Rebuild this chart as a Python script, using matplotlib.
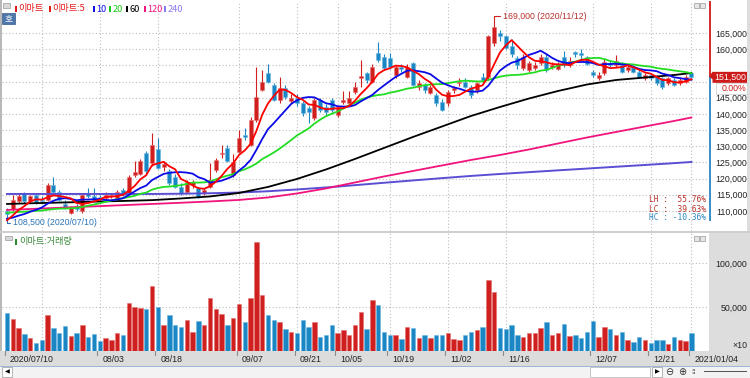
import numpy as np
import pandas as pd
import matplotlib
matplotlib.use('Agg')
import matplotlib.pyplot as plt
from matplotlib.patches import Rectangle, Polygon
from matplotlib.ticker import FuncFormatter
from matplotlib.transforms import blended_transform_factory

#####################################################
# Data: 이마트 daily, 07/10 ~ 01/04 #
#####################################################

holidays = ['2020-08-17', '2020-09-30', '2020-10-01', '2020-10-02', '2020-10-09',
            '2020-12-25', '2020-12-31', '2021-01-01']
dates = pd.bdate_range('2020-07-10', '2021-01-04', freq='C', holidays=holidays)

open_ = [110000, 110500, 113000, 115500, 113000, 115000, 113500, 113500, 118000, 116000,
         112000, 109500, 111500, 110000, 115500, 114500, 114300, 114000, 114500, 114000,
         116500, 115500, 121000, 121500, 127800, 124700, 129000, 123500, 122200, 120600,
         117500, 116000, 118000, 117000, 115500, 117500, 122700, 127500, 129500, 121000,
         128300, 133500, 130400, 138100, 147400, 152600, 148900, 144300, 147900, 144000,
         145000, 143300, 141700, 138700, 144300, 142000, 144300, 139700, 143800, 143300,
         146900, 151000, 152500, 150000, 158700, 157700, 157200, 152000, 154500, 151500,
         155600, 148400, 148900, 146500, 145800, 143800, 143300, 147400, 149500, 150000,
         148400, 147400, 151500, 151500, 162000, 165000, 164000, 161000, 157200, 154100,
         153700, 154100, 155600, 157700, 154600, 154000, 157700, 155000, 159200, 158700,
         157500, 153000, 151000, 152600, 155600, 155000, 155100, 153600, 154600, 153000,
         151000, 152000, 151500, 151000, 149500, 150500, 149500, 150000, 152500]
high = [111000, 115000, 115500, 116000, 115000, 115500, 114500, 118500, 120500, 116500,
        113500, 111500, 112000, 115500, 117000, 117000, 115000, 116000, 115500, 116500,
        117000, 121000, 125500, 126000, 128500, 134000, 132500, 125500, 123000, 121500,
        118500, 119500, 119500, 117500, 117000, 124700, 126500, 130400, 130500, 127500,
        135000, 135500, 139000, 154600, 153500, 155400, 149500, 151500, 149000, 146000,
        146000, 144000, 142500, 145000, 145000, 143000, 145000, 142500, 147000, 147000,
        150000, 156700, 153000, 155500, 162300, 158500, 158700, 155000, 155500, 155500,
        156000, 150500, 149500, 149000, 146500, 144500, 147500, 148500, 151000, 151000,
        149000, 150000, 152500, 164500, 169000, 166000, 164500, 163000, 158000, 158500,
        156500, 156000, 158500, 158500, 156000, 156000, 159300, 157500, 159500, 160000,
        158000, 153500, 153000, 157000, 156500, 158300, 156000, 155000, 155000, 153500,
        152500, 152500, 152000, 151500, 151500, 151000, 151000, 152000, 153000]
low = [108500, 110000, 112500, 112500, 112500, 112000, 112500, 113000, 115500, 113000,
       110500, 109000, 110000, 109500, 114000, 113000, 113000, 113500, 114000, 113500,
       114500, 115000, 120500, 121000, 121500, 124000, 123000, 122500, 118000, 117000,
       115000, 115500, 117000, 114000, 115000, 117000, 122000, 126500, 125000, 120500,
       128000, 132000, 130000, 137500, 147000, 149500, 144000, 143500, 144500, 143000,
       142500, 139500, 137200, 138000, 140500, 139500, 140500, 139000, 143000, 142500,
       146000, 148400, 149500, 149500, 156000, 153500, 154000, 151000, 153000, 151000,
       148500, 147500, 146500, 146000, 142500, 140800, 142500, 146500, 148500, 148000,
       145000, 146500, 149500, 150500, 161000, 162500, 160000, 157500, 154000, 153500,
       153000, 153500, 155000, 153000, 154000, 153500, 154500, 154500, 157500, 157000,
       155000, 151500, 150500, 152000, 154500, 154500, 152500, 153000, 152500, 151000,
       150500, 150500, 149000, 147800, 149000, 148500, 149000, 149500, 150500]
close = [109000, 113500, 114500, 113000, 114500, 112500, 113000, 118000, 116000, 113500,
         111000, 111000, 110500, 115000, 114700, 113500, 113700, 115000, 115000, 116000,
         115000, 120500, 122000, 125500, 122200, 130400, 123300, 124500, 118600, 117500,
         115500, 119000, 118800, 114400, 116500, 119500, 125800, 128000, 125300, 125000,
         132500, 132800, 138100, 145300, 150000, 150000, 144300, 147900, 145100, 145000,
         143500, 140300, 140700, 144300, 141200, 140500, 141200, 141700, 144300, 144800,
         148400, 151700, 150500, 154600, 156700, 154100, 154600, 154600, 154000, 154600,
         148900, 149400, 147400, 148400, 143300, 141200, 146900, 147900, 150000, 148400,
         145800, 149500, 150500, 164000, 167000, 164000, 160500, 158500, 155100, 157700,
         155700, 155100, 157700, 153600, 155100, 155000, 155100, 156500, 158500, 158200,
         155500, 152000, 152000, 156100, 155100, 156200, 153000, 154600, 153000, 151500,
         152000, 151000, 149600, 148400, 151000, 149000, 150500, 151500, 151500]
# 거래량, in the chart's x10 units
volume = [43200, 36700, 26500, 19300, 15200, 9500, 12100, 41300, 26500, 20800,
          28000, 16700, 20800, 29900, 15900, 19300, 11000, 14400, 12100, 20100,
          18600, 54500, 50400, 48900, 47700, 73500, 50400, 29900, 41300, 29200,
          27700, 34800, 22000, 33700, 29900, 60600, 47700, 42400, 29200, 37900,
          53400, 33300, 60600, 123900, 64000, 41300, 35600, 33000, 25000, 21600,
          20100, 35600, 27300, 33000, 15500, 17800, 29200, 20100, 23500, 18600,
          29200, 44300, 25000, 58300, 52700, 22000, 18600, 17800, 13600, 27300,
          26500, 14800, 18600, 14800, 18600, 17800, 20100, 13600, 12900, 17800,
          22000, 23500, 27300, 81100, 66700, 25800, 24600, 29900, 18600, 16300,
          20800, 20800, 26500, 33000, 17800, 20100, 30700, 16700, 18600, 14400,
          21600, 33700, 15500, 27700, 25000, 18600, 22000, 12900, 10200, 16300,
          12100, 9500, 12100, 12900, 8000, 15500, 12900, 11000, 20100]
# closes of the 19 sessions before 07/10 (only used to start the 5/10/20 lines)
pre_close = [111000, 111500, 112000, 111000, 110500, 111500, 112500, 112000, 111000, 110000,
             109500, 108500, 108000, 107500, 106500, 106000, 106000, 107000, 107500]

# long averages, every 5 sessions
ma_idx = [0, 5, 10, 15, 20, 25, 30, 35, 40, 45, 50, 55, 60, 65, 70, 75, 80, 85, 90, 95,
          100, 105, 110, 115, 118]
ma60 = [112160, 112410, 112630, 112870, 113090, 113340, 113860, 114480, 115560, 117420,
        119890, 122820, 126070, 129470, 132870, 136110, 139360, 142140, 144760, 147080,
        149090, 150480, 151250, 152020, 152640]
ma120 = [110310, 110680, 111050, 111420, 111790, 112160, 112530, 112940, 113400, 114170,
         115410, 116950, 118810, 120660, 122360, 124060, 125760, 127300, 129000, 130860,
         132710, 134410, 136110, 137810, 138890]
ma240 = [115250, 115250, 115250, 115250, 115250, 115250, 115320, 115470, 115690, 116090,
         116640, 117260, 117970, 118710, 119430, 120140, 120820, 121430, 121990, 122550,
         123100, 123660, 124210, 124770, 125140]

label_dates = ['2020-07-10', '2020-08-03', '2020-08-18', '2020-09-07', '2020-09-21', '2020-10-05',
               '2020-10-19', '2020-11-02', '2020-11-16', '2020-12-07', '2020-12-21', '2021-01-04']
grid_dates = ['2020-07-20'] + label_dates[1:]
price_ticks = list(range(110000, 165001, 5000))
vol_ticks = [50000, 100000]

#########
# Style #
#########

W, H = 750, 378
KR = ['Noto Sans CJK KR', 'DejaVu Sans']
NUM = ['Liberation Sans', 'DejaVu Sans']
MONO = 'DejaVu Sans Mono'
RED, RED_EDGE = '#cf1f1f', '#e77070'
BLUE, BLUE_EDGE = '#1a86c3', '#6db9e3'
GRID = dict(color='#bdbdbd', linestyle=(0, (1, 2)), linewidth=0.8)
X0, DX = 7, 5.8          # pixel of the first session, pixels per session


def fx(x):
    return x / W


def fy(y):
    return 1 - y / H


def rect(x0, y0, x1, y1, **kw):
    fig.add_artist(Rectangle((fx(x0), fy(y1)), fx(x1) - fx(x0), fy(y0) - fy(y1),
                             transform=fig.transFigure, **kw))


def px_axes(x0, y0, x1, y1):
    return fig.add_axes([fx(x0), fy(y1), fx(x1) - fx(x0), fy(y0) - fy(y1)])


fig = plt.figure(figsize=(W / 100, H / 100), dpi=100)
fig.patch.set_facecolor('white')

# frame pieces (behind the axes)
BG = dict(edgecolor='none', zorder=-1)
rect(0, 0, 2, 378, facecolor='#b8b8b8', **BG)
rect(709, 233, 750, 351, facecolor='#dddddd', **BG)
rect(747, 0, 750, 232, facecolor='#dddddd', **BG)
rect(0, 231, 750, 233, facecolor='#cfcfcf', **BG)
rect(0, 351, 750, 366, facecolor='#dcdcdc', **BG)
rect(0, 366, 750, 378, facecolor='#f3f3f3', **BG)
rect(0, 365.5, 750, 366.5, facecolor='#9db6d6', **BG)

ax1 = px_axes(2, 1, 709, 231)
ax2 = px_axes(2, 233, 709, 351)

n = len(close)
x = np.arange(n)
o, h, l, c = (np.array(a, dtype=float) for a in (open_, high, low, close))
up = c >= o
col = np.where(up, RED, BLUE)
edge = np.where(up, RED_EDGE, BLUE_EDGE)

xlim = ((2 - X0) / DX, (709 - X0) / DX)
grid_idx = [dates.get_loc(pd.Timestamp(d)) for d in grid_dates]
label_idx = [dates.get_loc(pd.Timestamp(d)) for d in label_dates]

for ax in (ax1, ax2):
    ax.set_xlim(*xlim)
    ax.set_xticks(grid_idx)
    ax.tick_params(axis='x', length=0, labelbottom=False)
    ax.grid(True, **GRID)
    ax.set_axisbelow(True)
    for s in ax.spines.values():
        s.set_visible(False)
    ax.yaxis.tick_right()
    ax.tick_params(axis='y', length=0, pad=27.4, labelsize=6.3, labelcolor='#222222')

# the last-price marker sits on top of the label nearest to it
ax1.yaxis.set_major_formatter(FuncFormatter(
    lambda v, p: '' if abs(v - close[-1]) < 4000 else f'{int(v):,}'))
ax2.yaxis.set_major_formatter(FuncFormatter(lambda v, p: f'{int(v):,}'))

############
# Price    #
############

ax1.set_ylim(103800, 174900)
ax1.set_yticks(price_ticks)

ax1.vlines(x, l, h, colors=col, linewidth=0.8, zorder=2)
ax1.bar(x, np.maximum(np.abs(c - o), 250), bottom=np.minimum(o, c), width=0.72,
        color=col, edgecolor=edge, linewidth=0.4, zorder=3)

full = pd.Series(pre_close + close, dtype=float)
k = len(pre_close)
ma5 = full.rolling(5).mean().iloc[k:].to_numpy()
ma10 = full.rolling(10).mean().iloc[k:].to_numpy()
ma20 = full.rolling(20).mean().iloc[k:].to_numpy()

ax1.plot(ma_idx, ma240, color='#5a4fd4', lw=1.4, zorder=4)
ax1.plot(ma_idx, ma120, color='#f0147c', lw=1.3, zorder=4)
ax1.plot(ma_idx, ma60, color='#000000', lw=1.3, zorder=4)
ax1.plot(x, ma20, color='#22dd22', lw=1.3, zorder=5)
ax1.plot(x, ma10, color='#0a0ae6', lw=1.3, zorder=5)
ax1.plot(x, ma5, color='#ff0000', lw=1.3, zorder=6)

for lbl in ax1.get_yticklabels() + ax2.get_yticklabels():
    lbl.set_horizontalalignment('right')
    lbl.set_fontfamily(NUM)

# high / low marks
ih, il = int(np.argmax(h)), int(np.argmin(l))
ax1.annotate(f'{int(h[ih]):,} ({dates[ih]:%Y/%m/%d})', xy=(ih, h[ih]), xytext=(6.5, 2.6),
             textcoords='offset points', ha='left', va='center', fontsize=6.3,
             family=NUM, color='#b8302c',
             arrowprops=dict(arrowstyle='-', color='#d02020', lw=0.8, shrinkA=0, shrinkB=0,
                             relpos=(0, 0.5), connectionstyle='angle,angleA=0,angleB=90,rad=0'))
ax1.annotate(f'{int(l[il]):,} ({dates[il]:%Y/%m/%d})', xy=(il, l[il]), xytext=(4.3, -5),
             textcoords='offset points', ha='left', va='center', fontsize=6.3,
             family=NUM, color='#2a74b8',
             arrowprops=dict(arrowstyle='-', color='#2a74b8', lw=0.8, shrinkA=0, shrinkB=0,
                             relpos=(0, 0.5), connectionstyle='angle,angleA=0,angleB=90,rad=0'))

# LH / LC / HC box
lh = (h.max() / l.min() - 1) * 100
lc = (c[-1] / l.min() - 1) * 100
hc = (c[-1] / h.max() - 1) * 100
for yy, name, v, colr in [(200, 'LH', lh, '#b8302c'), (209, 'LC', lc, '#b8302c'),
                          (217.5, 'HC', hc, '#2a86c0')]:
    fig.text(fx(649), fy(yy), f'{name} : {v:6.2f}%', family=MONO, fontsize=5.7,
             color=colr, ha='left', va='center')

# price-axis marker for the last close
tr = blended_transform_factory(fig.transFigure, ax1.transData)
ax1.vlines(fx(710), c[-1], 174900, transform=tr, colors='#d01818', lw=1.3, clip_on=False)
ax1.vlines(fx(710), 106800, c[-1], transform=tr, colors='#2a86c0', lw=1.3, clip_on=False)
chg = (c[-1] / c[-2] - 1) * 100
ax1.add_patch(Polygon([(fx(709), c[-1]), (fx(712.5), c[-1] + 1500), (fx(747), c[-1] + 1500),
                       (fx(747), c[-1] - 1900), (fx(712.5), c[-1] - 1900), (fx(712.5), c[-1] - 800)],
                      closed=True, transform=tr, facecolor='#cc1a1a', edgecolor='none',
                      clip_on=False, zorder=6))
ax1.text(fx(746), c[-1] - 200, f'{int(c[-1]):,}', transform=tr, ha='right', va='center',
         fontsize=6.3, family=NUM, color='white', clip_on=False, zorder=7)
ax1.add_patch(Rectangle((fx(716), c[-1] - 5200), fx(747) - fx(716), 3300, transform=tr,
                        facecolor='white', edgecolor='#c8c8c8', lw=0.5, clip_on=False, zorder=6))
ax1.text(fx(746), c[-1] - 3550, f'{chg:.2f}%', transform=tr, ha='right', va='center',
         fontsize=6.3, family=NUM, color='#d01818', clip_on=False, zorder=7)

############
# Volume   #
############

ax2.set_ylim(0, 134100)
ax2.set_yticks(vol_ticks)
ax2.bar(x, volume, width=0.78, color=col, edgecolor=edge, linewidth=0.4, zorder=3)
fig.text(fx(747), fy(345), '×10', ha='right', va='center', fontsize=6.3, family=NUM, color='#222222')

# date strip
dtr = blended_transform_factory(ax2.transData, fig.transFigure)
for i, d in zip(label_idx, label_dates):
    ts = pd.Timestamp(d)
    txt = f'{ts:%Y/%m/%d}' if d in (label_dates[0], label_dates[-1]) else f'{ts:%m/%d}'
    ax2.plot([i - 0.4, i - 0.4], [fy(351), fy(355)], transform=dtr, color='#8a8a8a',
             lw=0.8, clip_on=False)
    ax2.text(i + 0.5, fy(359), txt, transform=dtr, ha='left', va='center', fontsize=6.3,
             family=NUM, color='#222222', clip_on=False)

###########
# Legends #
###########

rect(3, 3, 10, 8, facecolor='#d8d8d8', edgecolor='#9a9a9a', lw=0.5)
items = [(15, '이마트', '#e31a1a'), (49, '이마트:5', '#e31a1a'), (93, '10', '#1010ee'),
         (109, '20', '#14cc14'), (126, '60', '#000000'), (144, '120', '#f0147c'),
         (164, '240', '#8878ee')]
for xx, txt, colr in items:
    rect(xx, 6, xx + 2, 12, facecolor=colr, edgecolor='none')
    fig.text(fx(xx + 3.5), fy(9), txt, family=KR, fontsize=6.6, color=colr, ha='left', va='center')
rect(2, 13, 15, 24, facecolor='#4d76aa', edgecolor='#36598a', lw=0.5)
fig.text(fx(8.5), fy(18.5), '호', family=KR, fontsize=6.3, color='white', ha='center', va='center')

rect(5, 236, 12, 240, facecolor='#d8d8d8', edgecolor='#9a9a9a', lw=0.5)
rect(15, 239, 17, 245, facecolor='#2f8a2f', edgecolor='none')
fig.text(fx(19), fy(241.5), '이마트:거래량', family=KR, fontsize=6.6, color='#3a8a3a',
         ha='left', va='center')

for yy in (3, 236):
    rect(694, yy, 699, yy + 5, facecolor='#e6e6e6', edgecolor='#9a9a9a', lw=0.5)
    rect(700, yy, 705, yy + 5, facecolor='#e6e6e6', edgecolor='#9a9a9a', lw=0.5)

# scroll bar pieces
rect(2, 367, 12, 377, facecolor='white', edgecolor='#9a9a9a', lw=0.5)
fig.text(fx(7), fy(372), '◀', fontsize=4.5, ha='center', va='center', color='black')
rect(590, 367, 650, 377, facecolor='white', edgecolor='#b0b0b0', lw=0.5)
rect(652, 367, 662, 377, facecolor='white', edgecolor='#9a9a9a', lw=0.5)
fig.text(fx(657), fy(372), '▶', fontsize=4.5, ha='center', va='center', color='black')
fig.text(fx(669), fy(372), '⊖', fontsize=7, ha='center', va='center', color='#333333')
fig.text(fx(682), fy(372), '⊕', fontsize=7, ha='center', va='center', color='#333333')
fig.text(fx(694), fy(372), '⁞⁞', fontsize=5, ha='center', va='center', color='#333333')
rect(704, 371, 747, 372, facecolor='#555555', edgecolor='none')

fig.savefig('out.png', dpi=100)
